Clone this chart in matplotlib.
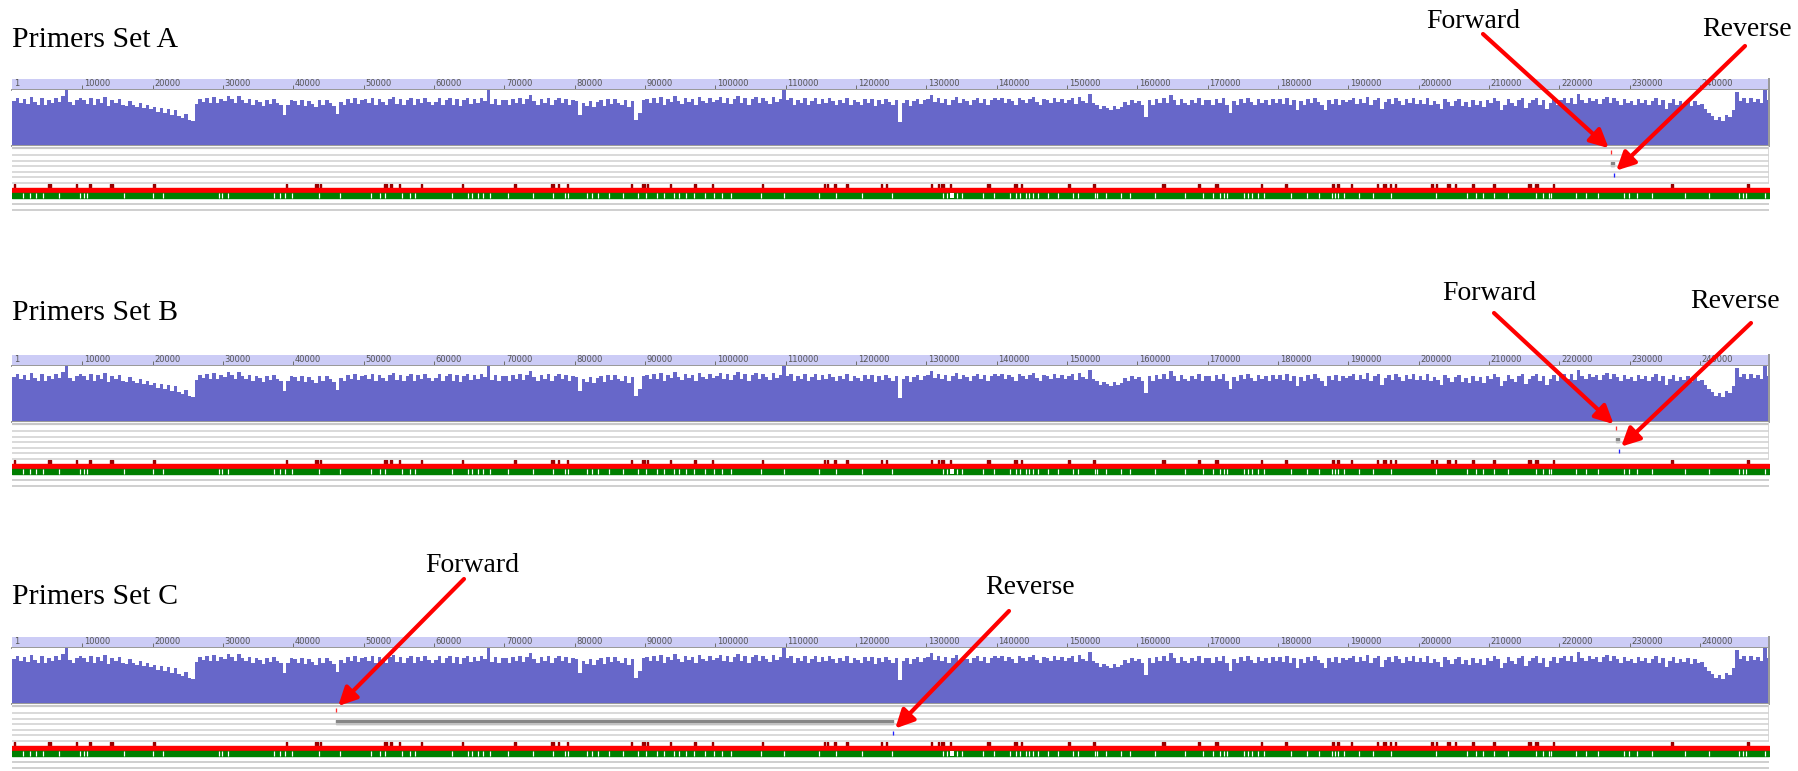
import numpy as np
import matplotlib.pyplot as plt

W, H = 1798, 771
genome_len = 249800
bin_size = 500

# read depth in 500 bp bins, one line per 10 kb
coverage = [
    83, 90, 79, 88, 78, 91, 82, 77, 89, 76, 86, 79, 90, 81, 92, 104, 82, 76, 85, 90,
    86, 78, 89, 76, 87, 80, 91, 75, 86, 79, 88, 77, 74, 84, 77, 72, 80, 70, 76, 68,
    72, 64, 71, 62, 69, 58, 66, 55, 52, 60, 49, 46, 78, 88, 82, 90, 80, 91, 79, 87,
    84, 92, 87, 80, 93, 86, 79, 88, 77, 86, 81, 75, 85, 78, 88, 80, 76, 58, 77, 86,
    83, 76, 86, 74, 84, 78, 73, 85, 77, 86, 80, 74, 60, 82, 76, 87, 80, 89, 78, 85,
    87, 79, 90, 77, 88, 81, 76, 87, 91, 78, 88, 77, 85, 90, 76, 87, 80, 89, 82, 77,
    81, 89, 76, 86, 90, 77, 87, 75, 85, 89, 78, 87, 80, 90, 83, 104, 78, 87, 76, 85,
    86, 77, 88, 80, 90, 78, 88, 95, 84, 76, 87, 79, 89, 77, 85, 90, 79, 87, 76, 85,
    84, 58, 80, 74, 84, 72, 81, 86, 75, 87, 78, 88, 80, 76, 86, 73, 84, 48, 62, 86,
    88, 79, 90, 80, 91, 77, 88, 81, 92, 84, 78, 90, 82, 88, 77, 91, 84, 79, 89, 81,
    86, 91, 80, 89, 78, 88, 92, 80, 89, 77, 87, 91, 80, 89, 84, 78, 91, 81, 88, 104,
    85, 89, 77, 86, 80, 90, 76, 84, 89, 78, 87, 79, 90, 83, 76, 86, 80, 89, 77, 85,
    82, 77, 87, 79, 88, 75, 85, 78, 88, 81, 76, 86, 44, 79, 86, 75, 83, 87, 78, 85,
    87, 94, 82, 89, 79, 88, 77, 86, 91, 79, 88, 83, 76, 86, 90, 79, 88, 77, 85, 90,
    86, 90, 79, 88, 83, 77, 90, 85, 79, 88, 91, 82, 77, 88, 85, 79, 90, 82, 88, 79,
    85, 89, 78, 91, 84, 80, 97, 80, 76, 68, 75, 70, 66, 74, 69, 72, 81, 76, 86, 79,
    84, 77, 54, 86, 76, 88, 79, 89, 80, 95, 85, 77, 87, 80, 76, 86, 79, 89, 77, 85,
    85, 76, 88, 79, 89, 77, 62, 84, 76, 87, 79, 89, 81, 76, 87, 79, 86, 77, 88, 80,
    87, 78, 89, 76, 85, 66, 84, 77, 88, 79, 89, 81, 76, 67, 86, 78, 88, 77, 86, 81,
    85, 90, 78, 88, 80, 91, 77, 85, 89, 68, 82, 88, 78, 90, 84, 77, 88, 80, 89, 78,
    86, 78, 89, 76, 84, 78, 68, 88, 82, 75, 84, 88, 74, 82, 72, 85, 76, 84, 73, 86,
    80, 89, 84, 67, 77, 88, 80, 74, 86, 90, 71, 79, 85, 89, 76, 86, 69, 80, 88, 77,
    86, 90, 80, 89, 78, 97, 86, 79, 90, 83, 88, 78, 87, 91, 80, 89, 84, 77, 87, 80,
    84, 77, 88, 79, 86, 76, 83, 89, 77, 85, 68, 80, 87, 76, 84, 78, 86, 75, 83, 77,
    78, 68, 62, 56, 48, 53, 46, 58, 54, 67, 100, 83, 89, 80, 90, 82, 88, 80, 104, 86,
]

ruler_ticks = [10000, 20000, 30000, 40000, 50000, 60000, 70000, 80000,
               90000, 100000, 110000, 120000, 130000, 140000, 150000, 160000,
               170000, 180000, 190000, 200000, 210000, 220000, 230000, 240000]

# variant sites (dark red) and their lengths in bp
snp_pos = [380, 5400, 9200, 11100, 14100, 20200, 39000, 43300, 43900, 53100,
           53900, 55100, 58200, 64100, 71500, 76800, 77700, 78950, 88100, 89800,
           90300, 93600, 97100, 99600, 106700, 115500, 115950, 117000, 118700, 123600,
           124300, 130700, 131700, 132300, 133400, 138800, 142700, 143560, 150270, 153850,
           163670, 168750, 171250, 177690, 181120, 187820, 188530, 190490, 194090, 195070,
           196000, 196710, 201900, 202500, 204300, 205200, 207700, 210700, 215700, 216800,
           219200, 236000, 246800]
snp_len = [180, 430, 180, 180, 430, 180, 180, 430, 180, 430,
           180, 180, 180, 180, 180, 430, 180, 180, 180, 430,
           180, 180, 180, 180, 180, 180, 180, 180, 180, 180,
           180, 180, 180, 430, 180, 430, 430, 180, 180, 180,
           430, 180, 430, 180, 180, 180, 180, 180, 180, 430,
           180, 180, 180, 180, 430, 180, 180, 180, 430, 430,
           180, 180, 180]

# breaks in the green annotation track
gap_pos = [1500, 2600, 3450, 4400, 6750, 9700, 10250, 10700, 15900, 20100,
           21500, 29400, 29800, 30700, 37300, 38100, 38800, 39850, 43650, 46700,
           51000, 52250, 53050, 55450, 56600, 57350, 62500, 64880, 65400, 66300,
           66900, 67900, 70450, 74140, 76950, 78650, 79000, 81770, 82400, 83300,
           84900, 86800, 88930, 90200, 91750, 92700, 94100, 94850, 95800, 96900,
           98500, 99750, 100900, 102200, 106450, 109750, 114750, 117100, 120900, 125100,
           132400, 132900, 134350, 135000, 138000, 139600, 141950, 142800, 143250, 144100,
           144600, 145100, 145850, 147300, 148700, 150780, 151500, 153930, 154320, 155510,
           157670, 158920, 162540, 166750, 169290, 170710, 171740, 172290, 172730, 175180,
           175720, 176270, 177090, 178070, 181880, 184060, 185810, 187710, 188100, 188540,
           189350, 191530, 193540, 196050, 202400, 206800, 208100, 209100, 210650, 212650,
           216630, 217700, 218500, 218850, 222400, 223850, 225500, 229200, 229900, 231100,
           233200, 237900, 241300, 245500, 246100, 246600, 249300]
wide_gap_pos = [133700]

panel_names = ['Primers Set A', 'Primers Set B', 'Primers Set C']
fwd_primer = [227300, 228000, 46100]
rev_primer = [227800, 228500, 125300]

# layout in output pixels (from top)
panel_top = [79, 355, 637]
title_y = [40, 313, 597]
fwd_text = [(1473, 21), (1489, 293), (472, 565)]
fwd_start = [(1483, 34), (1494, 313), (464, 579)]
rev_text = [(1747, 29), (1735, 302), (1030, 587)]
rev_start = [(1745, 46), (1751, 323), (1009, 611)]

X0, X1 = 12, 1769
SERIF = ['Liberation Serif', 'DejaVu Serif']

fig = plt.figure(figsize=(W / 100, H / 100), dpi=100)


def px_axes(top, height):
    ax = fig.add_axes([X0 / W, 1 - (top + height) / H, (X1 - X0) / W, height / H])
    ax.set_xlim(0, genome_len)
    ax.set_xticks([])
    ax.set_yticks([])
    for s in ax.spines.values():
        s.set_visible(False)
    return ax


def gray_edges(ax):
    for side in ('bottom', 'right'):
        ax.spines[side].set_visible(True)
        ax.spines[side].set_color('#9a9a9a')
        ax.spines[side].set_linewidth(2 * px)


edges = np.arange(len(coverage) + 1) * bin_size
px = 72 / 100  # points per output pixel

for i, name in enumerate(panel_names):
    T = panel_top[i]

    fig.text(X0 / W, 1 - title_y[i] / H, name, fontsize=21.5, family=SERIF,
             va='center', ha='left')

    # ruler
    ru = px_axes(T, 11)
    ru.set_facecolor('#ccccf6')
    ru.set_ylim(0, 1)
    ru.vlines(ruler_ticks, 0, 0.45, color='#707070', lw=1 * px)
    ru.text(300, 0.55, '1', fontsize=6, color='#555555', va='center', ha='left')
    for t in ruler_ticks:
        ru.text(t + 250, 0.55, str(t), fontsize=6, color='#555555',
                va='center', ha='left')
    gray_edges(ru)

    # coverage
    cv = px_axes(T + 11, 56)
    cv.set_ylim(0, 104)
    cv.stairs(coverage, edges, fill=True, color='#6767c9', lw=0)
    cv.set_xlim(0, genome_len)
    gray_edges(cv)

    # feature tracks
    tr = px_axes(T + 67, 65)
    tr.set_ylim(132, 67)
    tr.hlines([69.3], 0, genome_len, color='#c8c8c8', lw=2.2 * px)
    tr.hlines([76.0, 81.6, 87.2, 92.8, 98.4, 104.0], 0, genome_len,
              color='#d2d2d2', lw=1.6 * px)
    tr.vlines([genome_len], 67, 104, color='#d2d2d2', lw=1.6 * px)

    # amplicon and primers
    tr.broken_barh([(fwd_primer[i], rev_primer[i] - fwd_primer[i])], (82.6, 4.2),
                   color='#868686')
    tr.vlines([fwd_primer[i]], 71.3, 75.3, color='#ff3030', lw=1.3 * px)
    tr.vlines([rev_primer[i]], 93.5, 97.5, color='#2020ff', lw=1.3 * px)

    # variant row, red band, green track
    tr.broken_barh([(p - l / 2, l) for p, l in zip(snp_pos, snp_len)], (104.8, 3.8),
                   color='#990000')
    tr.broken_barh([(0, genome_len)], (109.3, 4.4), color='#ff0000')
    tr.broken_barh([(0, genome_len)], (114.4, 4.4), color='#007f00')
    tr.vlines(gap_pos, 114.4, 118.8, color='white', lw=1.2 * px)
    tr.vlines(wide_gap_pos, 114.4, 118.8, color='white', lw=4 * px)
    tr.hlines([124.9, 130.8], 0, genome_len, color='#d0d0d0', lw=2 * px)

    # primer arrows
    for (tx, ty), (sx, sy), bp, row, label in [
            (fwd_text[i], fwd_start[i], fwd_primer[i], 71.0, 'Forward'),
            (rev_text[i], rev_start[i], rev_primer[i], 93.5, 'Reverse')]:
        fig.text(tx / W, 1 - ty / H, label, fontsize=20, family=SERIF,
                 ha='center', va='center')
        tr.annotate('', xy=(bp, row), xycoords='data',
                    xytext=(sx, H - sy), textcoords='figure pixels',
                    arrowprops=dict(arrowstyle='-|>,head_length=1.1,head_width=0.55',
                                    color='#ff0000', lw=3, mutation_scale=10,
                                    shrinkA=0, shrinkB=2),
                    annotation_clip=False)

fig.savefig('out.png', dpi=100)
